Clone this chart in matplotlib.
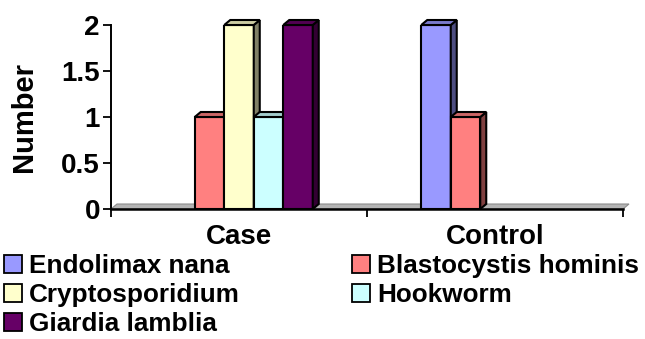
import matplotlib.pyplot as plt
from matplotlib.patches import Polygon, Patch

plt.rcParams['font.family'] = ['Liberation Sans', 'DejaVu Sans']
plt.rcParams['font.weight'] = 'bold'

# parasites found per group
groups = ["Case", "Control"]
species = ["Endolimax nana", "Blastocystis hominis", "Cryptosporidium",
           "Hookworm", "Giardia lamblia"]
endolimax = [0, 2]
blastocystis = [1, 1]
cryptosporidium = [2, 0]
hookworm = [1, 0]
giardia = [2, 0]
counts = [endolimax, blastocystis, cryptosporidium, hookworm, giardia]
colors = ["#9999FF", "#FF8080", "#FFFFCC", "#CCFFFF", "#660066"]
yticks = [0, 0.5, 1, 1.5, 2]
ytick_labels = ["0", "0.5", "1", "1.5", "2"]


def shade(c, f):
    c = c.lstrip("#")
    rgb = [int(c[i:i + 2], 16) / 255 for i in (0, 2, 4)]
    return tuple(v * f for v in rgb)


fig = plt.figure(figsize=(6.45, 3.39), dpi=100)
ax = fig.add_axes([111 / 645, 130 / 339, 512 / 645, 184 / 339])
ax.set_xlim(-0.5, 1.5)
ax.set_ylim(0, 2)

w = 29.5 / 256          # bar width in category units
dx, dy = 6 / 256, 5 / 92  # fake 3d depth

# floor
floor = Polygon([(-0.5, 0), (1.5, 0), (1.5 + dx, dy), (-0.5 + dx, dy)],
                closed=True, facecolor="#B4B4B4", edgecolor="#8C8C8C",
                lw=0.8, zorder=1, clip_on=False)
ax.add_patch(floor)

# bars, left to right so each front face hides the previous side face
z = 2
for g in range(len(groups)):
    for i, vals in enumerate(counts):
        v = vals[g]
        if v == 0:
            continue
        x0 = g + (i - 2) * w - w / 2
        x1 = x0 + w
        ax.bar(x0, v, width=w, align="edge", color=colors[i],
               edgecolor="black", linewidth=1.5, zorder=z)
        side = Polygon([(x1, 0), (x1 + dx, dy), (x1 + dx, v + dy), (x1, v)],
                       closed=True, facecolor=shade(colors[i], 0.5),
                       edgecolor="black", lw=1.5, zorder=z, clip_on=False)
        top = Polygon([(x0, v), (x1, v), (x1 + dx, v + dy), (x0 + dx, v + dy)],
                      closed=True, facecolor=shade(colors[i], 0.8),
                      edgecolor="black", lw=1.5, zorder=z, clip_on=False)
        ax.add_patch(side)
        ax.add_patch(top)
        z += 1

for s in ["top", "right"]:
    ax.spines[s].set_visible(False)
ax.spines["left"].set_linewidth(1.4)
ax.spines["bottom"].set_linewidth(1.8)
ax.spines["bottom"].set_zorder(30)

ax.set_yticks(yticks)
ax.set_yticklabels(ytick_labels)
ax.tick_params(axis="y", direction="out", length=6, width=1.3, pad=2,
               labelsize=20)
ax.set_xticks([0, 1])
ax.set_xticklabels(groups)
ax.set_xticks([-0.5, 0.5, 1.5], minor=True)
ax.tick_params(axis="x", which="major", length=0, pad=11, labelsize=20)
ax.tick_params(axis="x", which="minor", direction="out", length=6, width=1.3)

fig.text(24 / 645, 1 - 117 / 339, "Number", rotation=90, fontsize=21,
         ha="center", va="center")

# legend, row-major order of the two columns
order = [0, 2, 4, 1, 3]
handles = [Patch(facecolor=colors[i], edgecolor="black", lw=1.3) for i in order]
labels = [species[i] for i in order]
fig.legend(handles, labels, loc="upper left", bbox_to_anchor=(4 / 645, 1 - 254 / 339),
           ncol=2, frameon=False, fontsize=18.8, borderpad=0, borderaxespad=0,
           handlelength=0.68, handleheight=0.68, handletextpad=0.28,
           labelspacing=0.2, columnspacing=4.3)

fig.savefig("out.png", dpi=100)
